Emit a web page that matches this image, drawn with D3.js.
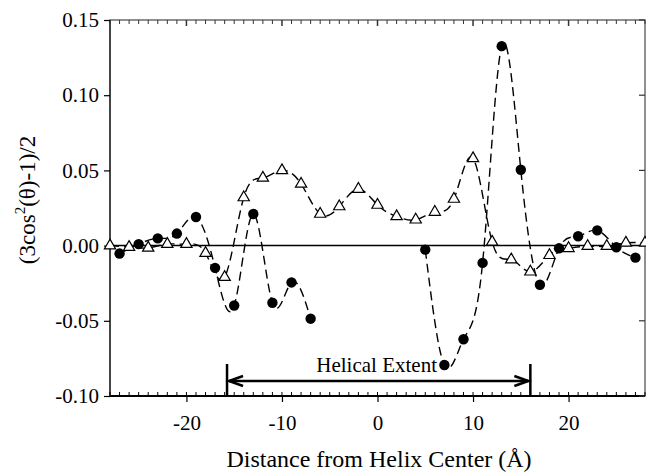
<!DOCTYPE html>
<html>
<head>
<meta charset="utf-8">
<script src="https://cdn.jsdelivr.net/npm/d3@7"></script>
<style>
  html, body { margin: 0; padding: 0; background: #fff; }
  text { font-family: "Liberation Serif", "Times New Roman", serif; fill: #000; }
</style>
</head>
<body>
<svg id="chart" width="646" height="472"></svg>
<script>
// ---- data ----
const triX = [-28, -26, -24, -22, -20, -18, -16, -14, -12, -10, -8, -6, -4, -2, 0, 2, 4, 6, 8, 10, 12, 14, 16, 18, 20, 22, 24, 26, 28];
const triY = [0, -0.001, -0.0015, 0.001, 0.001, -0.005, -0.021, 0.032, 0.045, 0.050, 0.041, 0.021, 0.026, 0.0376, 0.027, 0.0194, 0.0172, 0.0223, 0.031, 0.058, 0.0025, -0.0093, -0.0174, -0.0064, -0.0018, -0.0004, -0.0004, 0.0018, 0.0018];
const circX = [-27, -25, -23, -21, -19, -17, -15, -13, -11, -9, -7, -5, -3, -1, 1, 3, 5, 7, 9, 11, 13, 15, 17, 19, 21, 23, 25, 27];
const circY = [-0.0053, 0.001, 0.0048, 0.008, 0.019, -0.0148, -0.0398, 0.021, -0.038, -0.0245, -0.0486, null, null, null, null, null, -0.0027, -0.0794, -0.0623, -0.0115, 0.1326, 0.0504, -0.026, -0.0018, 0.0062, 0.0101, -0.0011, -0.008];
const xTicks = [-20, -10, 0, 10, 20];
const yTicks = [-0.10, -0.05, 0.00, 0.05, 0.10, 0.15];
const helixExtent = [-15.75, 16];
const helixLabel = "Helical Extent";
const xTitle = "Distance from Helix Center (Å)";

// ---- layout ----
const svg = d3.select("#chart");
const L = 110, R = 645, T = 20, B = 396;
const FONT = "Liberation Serif";
const x = d3.scaleLinear().domain([-28, 28]).range([L, R]);
const y = d3.scaleLinear().domain([-0.10, 0.15]).range([B, T]);
const minorX = d3.range(-28, 29, 1);
const hyph = f => (d => f(d).replace("\u2212", "-"));

// zero line
svg.append("line").attr("x1", L).attr("x2", R).attr("y1", y(0)).attr("y2", y(0))
  .attr("stroke", "#000").attr("stroke-width", 1.5);

// frame
svg.append("rect").attr("x", L).attr("y", T).attr("width", R - L).attr("height", B - T)
  .attr("fill", "none").attr("stroke", "#555").attr("stroke-width", 1.3);
svg.append("line").attr("x1", L).attr("x2", R).attr("y1", B).attr("y2", B)
  .attr("stroke", "#000").attr("stroke-width", 2);
svg.append("line").attr("x1", L).attr("x2", L).attr("y1", T).attr("y2", B)
  .attr("stroke", "#444").attr("stroke-width", 2);

// bottom axis
const gx = svg.append("g").attr("transform", `translate(0,${B})`)
  .call(d3.axisBottom(x).tickValues(xTicks).tickFormat(hyph(d3.format("d"))).tickSize(6).tickPadding(13))
  .attr("font-family", FONT);
gx.select(".domain").remove();
gx.selectAll(".tick line").attr("stroke", "#000").attr("stroke-width", 1.2);
gx.selectAll(".tick text").attr("font-size", 21).attr("font-family", FONT);
svg.append("g").selectAll("line").data(minorX).join("line")
  .attr("x1", d => x(d)).attr("x2", d => x(d)).attr("y1", B).attr("y2", B - 4)
  .attr("stroke", "#000").attr("stroke-width", 1);
// top ticks
svg.append("g").selectAll("line").data(minorX).join("line")
  .attr("x1", d => x(d)).attr("x2", d => x(d)).attr("y1", T).attr("y2", d => T + (d % 10 === 0 ? 6 : 4))
  .attr("stroke", "#333").attr("stroke-width", d => d % 10 === 0 ? 1.5 : 1);

// left axis
const gy = svg.append("g").attr("transform", `translate(${L},0)`)
  .call(d3.axisLeft(y).tickValues(yTicks).tickFormat(hyph(d3.format(".2f"))).tickSize(6).tickPadding(5))
  .attr("font-family", FONT);
gy.select(".domain").remove();
gy.selectAll(".tick line").attr("stroke", "#000").attr("stroke-width", 1.2);
gy.selectAll(".tick text").attr("font-size", 21).attr("font-family", FONT);
// right inward ticks
svg.append("g").selectAll("line").data(yTicks).join("line")
  .attr("x1", R).attr("x2", R - 6).attr("y1", d => y(d)).attr("y2", d => y(d))
  .attr("stroke", "#333").attr("stroke-width", 1.2);

// titles
svg.append("text").attr("x", 379).attr("y", 467).attr("text-anchor", "middle")
  .attr("font-size", 24).text(xTitle);
const yt = svg.append("text").attr("transform", "translate(35,200) rotate(-90)")
  .attr("text-anchor", "middle").attr("font-size", 23);
yt.append("tspan").text("(3cos");
yt.append("tspan").attr("font-size", 15).attr("dy", -10).text("2");
yt.append("tspan").attr("dy", 10).text("(θ)-1)/2");

// helical extent annotation
const ay = 381;
const ann = svg.append("g").attr("stroke", "#000").attr("fill", "none");
ann.selectAll(".bar").data(helixExtent).join("line").attr("class", "bar")
  .attr("x1", d => x(d)).attr("x2", d => x(d)).attr("y1", 364).attr("y2", B + 1)
  .attr("stroke-width", 2.5);
ann.append("line").attr("x1", x(helixExtent[0]) + 2).attr("x2", x(helixExtent[1]) - 2)
  .attr("y1", ay).attr("y2", ay).attr("stroke-width", 2.5);
const x0 = x(helixExtent[0]), x1 = x(helixExtent[1]);
ann.append("path").attr("d", `M${x0 + 16},${ay - 5} L${x0 + 2},${ay} L${x0 + 16},${ay + 5}`).attr("stroke-width", 2.5);
ann.append("path").attr("d", `M${x1 - 16},${ay - 5} L${x1 - 2},${ay} L${x1 - 16},${ay + 5}`).attr("stroke-width", 2.5);
svg.append("text").attr("x", 437).attr("y", 372).attr("text-anchor", "end")
  .attr("font-size", 21).text(helixLabel);

// series lines
const tri = triX.map((d, i) => ({x: d, y: triY[i]}));
const circ = circX.map((d, i) => ({x: d, y: circY[i]}));
const line = d3.line().defined(d => d.y !== null).x(d => x(d.x)).y(d => y(d.y)).curve(d3.curveNatural);
svg.append("path").datum(circ).attr("d", line).attr("fill", "none")
  .attr("stroke", "#000").attr("stroke-width", 1.4).attr("stroke-dasharray", "9,5");
svg.append("path").datum(tri).attr("d", line).attr("fill", "none")
  .attr("stroke", "#000").attr("stroke-width", 1.4).attr("stroke-dasharray", "9,5");

// markers
svg.append("g").selectAll("circle").data(circ.filter(d => d.y !== null)).join("circle")
  .attr("cx", d => x(d.x)).attr("cy", d => y(d.y)).attr("r", 5.2).attr("fill", "#000");
const triSym = d3.symbol().type(d3.symbolTriangle).size(55);
svg.append("g").selectAll("path").data(tri).join("path")
  .attr("transform", d => `translate(${x(d.x)},${y(d.y)})`).attr("d", triSym)
  .attr("fill", "#fff").attr("stroke", "#000").attr("stroke-width", 1.2);
</script>
</body>
</html>
